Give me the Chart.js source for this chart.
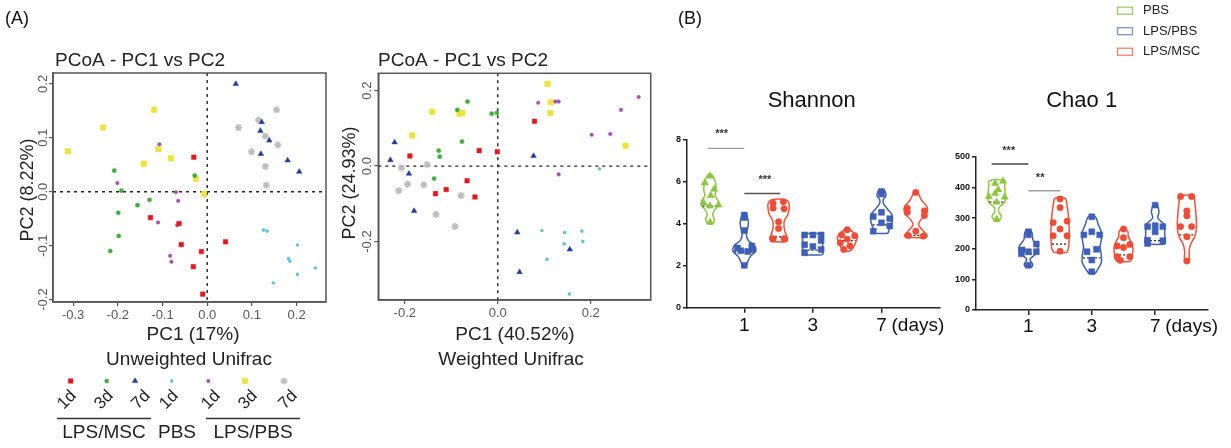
<!DOCTYPE html>
<html>
<head>
<meta charset="utf-8">
<script src="https://cdn.jsdelivr.net/npm/chart.js@4.4.1/dist/chart.umd.min.js"></script>
<style>
  html, body { margin: 0; padding: 0; background: #fff; }
  body { width: 1231px; height: 448px; position: relative; overflow: hidden; }
  canvas { position: absolute; top: 0; }
</style>
</head>
<body>
<canvas id="pcoaU" width="345" height="448" style="left:0px;width:345px;height:448px"></canvas>
<canvas id="pcoaW" width="320" height="448" style="left:340px;width:320px;height:448px"></canvas>
<canvas id="shannon" width="310" height="448" style="left:640px;width:310px;height:448px"></canvas>
<canvas id="chao" width="291" height="448" style="left:940px;width:291px;height:448px"></canvas>
<script>
const FONT = '"Liberation Sans", Arial, Helvetica, sans-serif';
Chart.defaults.font.family = FONT;

// ---- PCoA groups ----
const groupDays = ['1d', '3d', '7d', '1d', '1d', '3d', '7d'];
const groupLabels = ['LPS/MSC', 'PBS', 'LPS/PBS'];

// Unweighted Unifrac (PC1, PC2)
const unwMsc1dX = [-0.030, -0.127, -0.063, -0.058, -0.013, -0.031, -0.010, 0.041];
const unwMsc1dY = [0.064, -0.048, -0.059, -0.098, -0.111, -0.139, -0.190, -0.093];
const unwMsc3dX = [-0.208, -0.192, -0.129, -0.156, -0.199, -0.198, -0.217, -0.028];
const unwMsc3dY = [0.039, 0.002, -0.015, -0.025, -0.039, -0.082, -0.110, 0.030];
const unwMsc7dX = [0.064, 0.122, 0.119, 0.139, 0.120, 0.180, 0.206];
const unwMsc7dY = [0.200, 0.129, 0.113, 0.095, 0.070, 0.058, 0.037];
const unwPbs1dX = [0.126, 0.134, 0.202, 0.182, 0.185, 0.202, 0.242, 0.148];
const unwPbs1dY = [-0.071, -0.073, -0.099, -0.124, -0.129, -0.153, -0.141, -0.169];
const unwLps1dX = [-0.107, -0.201, -0.070, -0.065, -0.110, -0.067, -0.083, -0.080];
const unwLps1dY = [0.088, 0.016, -0.001, -0.017, -0.057, -0.062, -0.119, -0.130];
const unwLps3dX = [-0.312, -0.233, -0.119, -0.109, -0.142, -0.081, -0.025, -0.007];
const unwLps3dY = [0.075, 0.119, 0.152, 0.079, 0.052, 0.062, 0.024, -0.004];
const unwLps7dX = [0.155, 0.115, 0.070, 0.130, 0.158, 0.099, 0.130, 0.132];
const unwLps7dY = [0.152, 0.133, 0.119, 0.103, 0.087, 0.074, 0.047, 0.012];

// Weighted Unifrac (PC1, PC2)
const wMsc1dX = [0.079, -0.040, -0.001, -0.189, -0.066, -0.111, -0.134, -0.049];
const wMsc1dY = [0.119, 0.041, 0.038, 0.027, -0.039, -0.062, -0.073, -0.082];
const wMsc3dX = [-0.065, -0.087, -0.013, -0.002, -0.077, -0.127, -0.125, -0.137];
const wMsc3dY = [0.171, 0.149, 0.139, 0.141, 0.065, 0.041, 0.025, -0.033];
const wMsc7dX = [-0.222, -0.231, -0.191, -0.180, 0.077, 0.042, 0.047, 0.155];
const wMsc7dY = [0.063, 0.016, -0.020, -0.119, 0.027, -0.176, -0.281, -0.221];
const wPbs1dX = [0.219, 0.095, 0.144, 0.181, 0.143, 0.183, 0.106, 0.154];
const wPbs1dY = [-0.007, -0.171, -0.176, -0.172, -0.206, -0.200, -0.247, -0.339];
const wLps1dX = [0.087, 0.124, 0.131, 0.303, 0.265, 0.202, 0.242, 0.131];
const wLps1dY = [0.168, 0.171, 0.171, 0.183, 0.149, 0.083, 0.085, -0.022];
const wLps3dX = [0.107, 0.114, 0.113, 0.275, -0.141, -0.082, -0.076, -0.184];
const wLps3dY = [0.218, 0.169, 0.141, 0.054, 0.144, 0.139, 0.141, 0.081];
const wLps7dX = [-0.207, -0.152, -0.194, -0.159, -0.213, -0.079, -0.133, -0.092];
const wLps7dY = [-0.005, 0.004, -0.048, -0.050, -0.065, -0.078, -0.128, -0.160];

// ---- alpha diversity (violins), slots: PBS, LPS/PBS 1, LPS/MSC 1, LPS/PBS 3, LPS/MSC 3, LPS/PBS 7, LPS/MSC 7 ----
const dayTickSlots = [1, 3, 5];
const dayTickLabels = ['1', '3', '7'];

const shannonVals = [
  [6.28, 5.95, 5.65, 5.35, 5.00, 4.90, 4.85, 4.08],
  [4.42, 4.30, 3.68, 2.95, 2.85, 2.78, 2.72, 2.68, 2.02],
  [5.05, 4.98, 4.75, 4.72, 4.10, 3.78, 3.29, 3.29],
  [3.47, 3.47, 3.47, 3.20, 2.92, 2.78, 2.62, 3.00],
  [3.72, 3.47, 3.43, 3.27, 3.10, 2.95, 2.78],
  [5.55, 5.42, 4.55, 4.35, 4.25, 4.05, 3.90, 3.65],
  [5.50, 4.75, 4.62, 4.55, 4.40, 3.65, 3.45, 3.42]
];
const shannonJitter = [
  [0, -0.15, 0.12, 0.02, -0.18, 0.25, 0, 0],
  [0, 0, 0, 0.22, -0.2, 0.25, -0.1, 0.1, 0],
  [0.14, -0.16, -0.16, 0.16, 0, 0, -0.16, 0.16],
  [-0.24, 0, 0.24, 0.24, 0, 0.24, -0.24, -0.24],
  [0, -0.16, 0.22, 0, -0.2, 0.08, -0.1],
  [0, 0, 0, -0.24, 0.24, 0, 0.24, -0.24],
  [0, -0.25, 0.25, -0.25, 0.25, 0, -0.22, 0.22]
];
const shannonLevels = [
  [4.0, 4.2, 4.45, 4.7, 4.9, 5.1, 5.35, 5.6, 5.9, 6.15, 6.35],
  [1.95, 2.2, 2.45, 2.7, 2.95, 3.2, 3.5, 3.8, 4.1, 4.45],
  [3.15, 3.3, 3.55, 3.85, 4.15, 4.45, 4.75, 5.0, 5.15],
  [2.52, 2.6, 2.8, 3.0, 3.2, 3.4, 3.52],
  [2.7, 2.85, 3.05, 3.25, 3.4, 3.55, 3.7, 3.78],
  [3.55, 3.7, 3.95, 4.2, 4.45, 4.7, 4.95, 5.15, 5.35, 5.6],
  [3.35, 3.45, 3.7, 3.95, 4.2, 4.5, 4.8, 5.1, 5.35, 5.55]
];
const shannonWidths = [
  [0.06, 0.13, 0.08, 0.15, 0.26, 0.24, 0.15, 0.18, 0.17, 0.12, 0.05],
  [0.05, 0.10, 0.18, 0.33, 0.30, 0.12, 0.06, 0.10, 0.12, 0.05],
  [0.22, 0.26, 0.20, 0.16, 0.17, 0.27, 0.31, 0.30, 0.20],
  [0.25, 0.30, 0.30, 0.28, 0.30, 0.30, 0.25],
  [0.06, 0.17, 0.23, 0.28, 0.28, 0.20, 0.10, 0.03],
  [0.18, 0.22, 0.28, 0.32, 0.30, 0.18, 0.06, 0.05, 0.13, 0.08],
  [0.30, 0.33, 0.20, 0.08, 0.15, 0.32, 0.33, 0.18, 0.10, 0.04]
];
const shannonMedians = [4.85, 2.67, 3.38, 2.75, 3.2, 3.95, 3.45];
const shannonSigFrom = [-0.07, 1];
const shannonSigTo = [1, 2.05];
const shannonSigY = [7.6, 5.45];
const shannonSigText = ['***', '***'];
const shannonSigTextX = [0.34, 1.6];
const shannonSigTextY = [8.3, 6.1];

const chaoVals = [
  [420, 413, 392, 380, 370, 368, 352, 296],
  [255, 245, 215, 196, 190, 190, 183, 146],
  [362, 334, 290, 285, 264, 242, 242, 192],
  [304, 255, 245, 245, 198, 190, 163, 125],
  [264, 236, 214, 209, 204, 174, 174, 162],
  [342, 275, 272, 272, 255, 228, 226, 217],
  [370, 370, 323, 307, 272, 272, 239, 160]
];
const chaoJitter = [
  [0.2, -0.05, 0.05, -0.05, -0.25, 0.25, 0, 0],
  [0, 0, 0.25, -0.2, 0, 0.25, -0.22, 0],
  [0, 0, 0.22, -0.22, 0, -0.22, 0.22, 0],
  [0, 0, -0.25, 0.25, 0.15, -0.15, 0, 0],
  [0, 0, 0.2, -0.2, 0, -0.2, 0.2, -0.1],
  [0, 0, -0.24, 0.24, 0, -0.24, 0.24, -0.24],
  [-0.2, 0.15, 0, 0, -0.2, 0.15, 0, 0]
];
const chaoLevels = [
  [290, 305, 320, 335, 350, 365, 385, 405, 420, 425],
  [140, 150, 165, 180, 195, 210, 230, 250, 260],
  [188, 200, 220, 250, 280, 310, 340, 362, 368],
  [120, 135, 155, 180, 205, 230, 255, 280, 300, 308],
  [158, 165, 180, 200, 220, 240, 255, 268],
  [215, 225, 245, 265, 280, 300, 320, 345],
  [158, 170, 190, 215, 240, 265, 290, 320, 350, 372]
];
const chaoWidths = [
  [0.05, 0.15, 0.06, 0.08, 0.25, 0.27, 0.27, 0.25, 0.25, 0.10],
  [0.10, 0.13, 0.05, 0.20, 0.30, 0.28, 0.14, 0.12, 0.06],
  [0.20, 0.26, 0.28, 0.29, 0.28, 0.26, 0.22, 0.18, 0.05],
  [0.10, 0.20, 0.30, 0.30, 0.26, 0.30, 0.30, 0.20, 0.14, 0.05],
  [0.20, 0.25, 0.28, 0.30, 0.25, 0.15, 0.14, 0.04],
  [0.30, 0.32, 0.30, 0.30, 0.28, 0.08, 0.12, 0.05],
  [0.06, 0.08, 0.07, 0.12, 0.25, 0.30, 0.30, 0.28, 0.25, 0.20]
];
const chaoMedians = [352, 183, 215, 170, 180, 226, 245];
const chaoSigFrom = [-0.16, 1];
const chaoSigTo = [1, 2.0];
const chaoSigY = [476, 389];
const chaoSigText = ['***', '**'];
const chaoSigTextX = [0.38, 1.37];
const chaoSigTextY = [520, 429];

// ---- styles ----
const groupStyles = [
  { color: '#e8161b', shape: 'rect', r: 3.2, bw: 0.5 },
  { color: '#3db03a', shape: 'circle', r: 2.1, bw: 0.5 },
  { color: '#1f3f9a', shape: 'triangle', r: 3.2, bw: 0.5 },
  { color: '#5fc6d6', shape: 'star', r: 1.7, bw: 1.5 },
  { color: '#a94fae', shape: 'circle', r: 1.8, bw: 0.5 },
  { color: '#efe23a', shape: 'rect', r: 3.9, bw: 0.5 },
  { color: '#bdbdbd', shape: 'star', r: 3.6, bw: 1.6 }
];
const GREEN = { line: '#8cc63f', color: '#8cc63f', shape: 'triangle', r: 4.2 };
const BLUE = { line: '#3f5db3', color: '#3d5fb8', shape: 'rect', r: 4.2 };
const RED = { line: '#f0503a', color: '#ef4b35', shape: 'circle', r: 3.2 };
const violinStyles = [GREEN, BLUE, RED, BLUE, RED, BLUE, RED];

function fmt1(v) { return Math.abs(v) < 1e-9 ? '0.0' : Number(v).toFixed(1); }

function drawText(ctx, t) {
  ctx.save();
  ctx.font = (t.weight || '') + ' ' + t.size + 'px ' + FONT;
  ctx.fillStyle = t.color || '#222';
  ctx.textAlign = t.align || 'center';
  ctx.textBaseline = 'middle';
  ctx.translate(t.x, t.y);
  if (t.rot) ctx.rotate(t.rot);
  ctx.fillText(t.t, 0, 0);
  ctx.restore();
}

function drawMarker(ctx, st, x, y) {
  ctx.save();
  ctx.fillStyle = st.color;
  ctx.strokeStyle = st.color;
  ctx.lineWidth = st.bw;
  Chart.helpers.drawPoint(ctx, { pointStyle: st.shape, radius: st.r, borderWidth: st.bw, rotation: 0 }, x, y);
  ctx.restore();
}

function pcoaChart(id, cfg) {
  const datasets = cfg.xs.map((xs, g) => ({
    data: xs.map((x, i) => ({ x: x, y: cfg.ys[g][i] })),
    pointStyle: groupStyles[g].shape,
    pointRadius: groupStyles[g].r,
    pointBackgroundColor: groupStyles[g].color,
    pointBorderColor: groupStyles[g].color,
    pointBorderWidth: groupStyles[g].bw,
    showLine: false
  }));
  const decor = {
    id: 'decor',
    beforeDatasetsDraw(chart) {
      const { ctx, chartArea: a, scales: { x, y } } = chart;
      const px = x.getPixelForValue(0), py = y.getPixelForValue(0);
      ctx.save();
      ctx.setLineDash([3, 4]);
      ctx.strokeStyle = '#222';
      ctx.lineWidth = 1.4;
      ctx.beginPath();
      ctx.moveTo(px, a.top); ctx.lineTo(px, a.bottom);
      ctx.moveTo(a.left, py); ctx.lineTo(a.right, py);
      ctx.stroke();
      ctx.restore();
    },
    afterDraw(chart) {
      const { ctx, chartArea: a, scales: { y } } = chart;
      ctx.save();
      ctx.strokeStyle = '#555';
      ctx.lineWidth = 1.5;
      ctx.strokeRect(a.left, a.top, a.right - a.left, a.bottom - a.top);
      ctx.restore();
      y.ticks.forEach(t => {
        drawText(ctx, { t: fmt1(t.value), x: cfg.yLabelX, y: y.getPixelForValue(t.value), size: 13, color: '#555', rot: -Math.PI / 2 });
      });
      cfg.texts.forEach(t => drawText(ctx, t));
      if (cfg.after) cfg.after(ctx);
    }
  };
  return new Chart(document.getElementById(id), {
    type: 'scatter',
    data: { datasets },
    options: {
      responsive: false,
      animation: false,
      events: [],
      layout: { padding: { top: cfg.top, left: 0, right: cfg.right, bottom: 0 } },
      plugins: { legend: { display: false }, tooltip: { enabled: false } },
      scales: {
        x: {
          type: 'linear', min: cfg.xMin, max: cfg.xMax,
          afterFit: s => { s.height = cfg.xh; },
          ticks: { stepSize: cfg.xStep, includeBounds: false, maxRotation: 0, autoSkip: false,
                   font: { size: 13 }, color: '#555', padding: 2, callback: fmt1 },
          grid: { drawOnChartArea: false, tickLength: 4, color: '#555', lineWidth: 1.2 },
          border: { color: '#555', width: 1.5 }
        },
        y: {
          type: 'linear', min: cfg.yMin, max: cfg.yMax,
          afterFit: s => { s.width = cfg.yw; },
          ticks: { stepSize: cfg.yStep, includeBounds: false, display: false },
          grid: { drawOnChartArea: false, tickLength: 4, color: '#555', lineWidth: 1.2 },
          border: { color: '#555', width: 1.5 }
        }
      }
    },
    plugins: [decor]
  });
}

function interp(levels, widths, v) {
  for (let i = 0; i < levels.length - 1; i++) {
    if (v >= levels[i] && v <= levels[i + 1]) {
      const f = (v - levels[i]) / (levels[i + 1] - levels[i]);
      return widths[i] + f * (widths[i + 1] - widths[i]);
    }
  }
  return widths[0];
}

function violinChart(id, cfg) {
  const datasets = [];
  cfg.vals.forEach((vals, k) => {
    const st = violinStyles[k];
    datasets.push({
      data: vals.map((v, i) => ({ x: k + cfg.jitter[k][i], y: v })),
      pointStyle: st.shape, pointRadius: st.r,
      pointBackgroundColor: st.color, pointBorderColor: st.color, pointBorderWidth: 0.5,
      showLine: false, order: 0
    });
    const left = cfg.levels[k].map((lv, i) => ({ x: k - cfg.widths[k][i], y: lv }));
    const right = cfg.levels[k].map((lv, i) => ({ x: k + cfg.widths[k][i], y: lv })).reverse();
    datasets.push({
      data: left.concat(right, [left[0]]),
      showLine: true, pointRadius: 0, borderColor: st.line, borderWidth: 1.5,
      tension: 0.3, fill: false, order: 2
    });
    const w = interp(cfg.levels[k], cfg.widths[k], cfg.medians[k]) * 0.92;
    datasets.push({
      data: [{ x: k - w, y: cfg.medians[k] }, { x: k + w, y: cfg.medians[k] }],
      showLine: true, pointRadius: 0, borderColor: '#222', borderWidth: 1.3,
      borderDash: [2, 2], order: 1
    });
  });
  cfg.sigFrom.forEach((f, i) => {
    datasets.push({
      data: [{ x: f, y: cfg.sigY[i] }, { x: cfg.sigTo[i], y: cfg.sigY[i] }],
      showLine: true, pointRadius: 0, borderColor: cfg.sigColors[i], borderWidth: 1.4, order: 1
    });
  });
  const decor = {
    id: 'decor',
    afterDraw(chart) {
      const { ctx, scales: { x, y } } = chart;
      cfg.sigText.forEach((t, i) => {
        drawText(ctx, { t: t, x: x.getPixelForValue(cfg.sigTextX[i]), y: y.getPixelForValue(cfg.sigTextY[i]), size: 11, weight: 'bold', color: '#333' });
      });
      dayTickSlots.forEach((s, i) => {
        const px = x.getPixelForValue(s);
        drawText(ctx, { t: dayTickLabels[i], x: px, y: cfg.dayLabelY, size: 19, color: '#111' });
        if (i === dayTickSlots.length - 1) {
          drawText(ctx, { t: '(days)', x: px + 10, y: cfg.dayLabelY, size: 19, color: '#111', align: 'left' });
        }
      });
      cfg.texts.forEach(t => drawText(ctx, t));
      if (cfg.after) cfg.after(ctx);
    }
  };
  return new Chart(document.getElementById(id), {
    type: 'scatter',
    data: { datasets },
    options: {
      responsive: false,
      animation: false,
      events: [],
      layout: { padding: { top: cfg.top, left: 0, right: cfg.right, bottom: 0 } },
      plugins: { legend: { display: false }, tooltip: { enabled: false } },
      scales: {
        x: {
          type: 'linear', min: cfg.xMin, max: cfg.xMax,
          afterFit: s => { s.height = cfg.xh; },
          afterBuildTicks: s => { s.ticks = dayTickSlots.map(v => ({ value: v })); },
          ticks: { display: false },
          grid: { drawOnChartArea: false, tickLength: 5, color: '#222', lineWidth: 1.5 },
          border: { color: '#222', width: 1.5 }
        },
        y: {
          type: 'linear', min: 0, max: cfg.yMax,
          afterFit: s => { s.width = cfg.yw; },
          ticks: { stepSize: cfg.yStep, font: { size: 9, weight: 'bold' }, color: '#111', padding: 2 },
          grid: { drawOnChartArea: false, tickLength: 4, color: '#222', lineWidth: 1.5 },
          border: { color: '#222', width: 1.5 }
        }
      }
    },
    plugins: [decor]
  });
}

// ---- chart 1: unweighted ----
const legendMarkerX = [70.7, 106.7, 135, 171.7, 208.3, 245, 284];
const legendDayX = [67, 104, 141, 169, 211, 248, 288];
const groupLabelX = [104, 177, 253];

pcoaChart('pcoaU', {
  xs: [unwMsc1dX, unwMsc3dX, unwMsc7dX, unwPbs1dX, unwLps1dX, unwLps3dX, unwLps7dX],
  ys: [unwMsc1dY, unwMsc3dY, unwMsc7dY, unwPbs1dY, unwLps1dY, unwLps3dY, unwLps7dY],
  xMin: -0.345, xMax: 0.2658, xStep: 0.1,
  yMin: -0.2046, yMax: 0.2202, yStep: 0.1,
  top: 73, right: 19, yw: 53, xh: 146, yLabelX: 43,
  texts: [
    { t: '(A)', x: 5, y: 19, size: 18, align: 'left', color: '#111' },
    { t: 'PCoA - PC1 vs PC2', x: 55, y: 61, size: 19, align: 'left' },
    { t: 'PC2 (8.22%)', x: 28, y: 190, size: 18, rot: -Math.PI / 2 },
    { t: 'PC1 (17%)', x: 193, y: 335, size: 19 },
    { t: 'Unweighted Unifrac', x: 189, y: 360, size: 19 }
  ],
  after(ctx) {
    groupStyles.forEach((st, g) => drawMarker(ctx, st, legendMarkerX[g], 381));
    groupDays.forEach((d, g) => drawText(ctx, { t: d, x: legendDayX[g], y: 400, size: 17, rot: -Math.PI / 4 }));
    ctx.save();
    ctx.strokeStyle = '#333';
    ctx.lineWidth = 1.3;
    ctx.beginPath();
    ctx.moveTo(57, 418.5); ctx.lineTo(151, 418.5);
    ctx.moveTo(206, 418.5); ctx.lineTo(300, 418.5);
    ctx.stroke();
    ctx.restore();
    groupLabels.forEach((l, i) => drawText(ctx, { t: l, x: groupLabelX[i], y: 433, size: 19 }));
  }
});

// ---- chart 2: weighted ----
pcoaChart('pcoaW', {
  xs: [wMsc1dX, wMsc3dX, wMsc7dX, wPbs1dX, wLps1dX, wLps3dX, wLps7dX],
  ys: [wMsc1dY, wMsc3dY, wMsc7dY, wPbs1dY, wLps1dY, wLps3dY, wLps7dY],
  xMin: -0.257, xMax: 0.329, xStep: 0.2,
  yMin: -0.355, yMax: 0.246, yStep: 0.2,
  top: 73.3, right: 9.3, yw: 38.3, xh: 148, yLabelX: 27,
  texts: [
    { t: 'PCoA - PC1 vs PC2', x: 38, y: 61, size: 19, align: 'left' },
    { t: 'PC2 (24.93%)', x: 10, y: 183, size: 18, rot: -Math.PI / 2 },
    { t: 'PC1 (40.52%)', x: 175, y: 335, size: 19 },
    { t: 'Weighted Unifrac', x: 171, y: 360, size: 19 }
  ]
});

// ---- chart 3: Shannon ----
violinChart('shannon', {
  vals: shannonVals, jitter: shannonJitter, levels: shannonLevels, widths: shannonWidths, medians: shannonMedians,
  sigFrom: shannonSigFrom, sigTo: shannonSigTo, sigY: shannonSigY, sigColors: ['#9a9a9a', '#555'],
  sigText: shannonSigText, sigTextX: shannonSigTextX, sigTextY: shannonSigTextY,
  xMin: -0.67, xMax: 6.706, yMax: 8, yStep: 2,
  top: 140, right: 10, yw: 47, xh: 140.3, dayLabelY: 326,
  texts: [
    { t: '(B)', x: 38, y: 19, size: 18, align: 'left', color: '#111' },
    { t: 'Shannon', x: 171.7, y: 101, size: 22, color: '#111' }
  ]
});

// ---- chart 4: Chao 1 ----
const legendNames = ['PBS', 'LPS/PBS', 'LPS/MSC'];
const legendColors = ['#9ccc65', '#8090cc', '#f08070'];
violinChart('chao', {
  vals: chaoVals, jitter: chaoJitter, levels: chaoLevels, widths: chaoWidths, medians: chaoMedians,
  sigFrom: chaoSigFrom, sigTo: chaoSigTo, sigY: chaoSigY, sigColors: ['#444', '#9a9a9a'],
  sigText: chaoSigText, sigTextX: chaoSigTextX, sigTextY: chaoSigTextY,
  xMin: -0.653, xMax: 6.666, yMax: 500, yStep: 100,
  top: 156.7, right: 23, yw: 36, xh: 138, dayLabelY: 327,
  texts: [
    { t: 'Chao 1', x: 141.7, y: 101, size: 22, color: '#111' }
  ],
  after(ctx) {
    legendNames.forEach((n, i) => {
      const cy = 10.7 + i * 20.5;
      ctx.save();
      ctx.strokeStyle = legendColors[i];
      ctx.lineWidth = 1.3;
      ctx.strokeRect(177.5, cy - 3.5, 15, 7);
      ctx.restore();
      drawText(ctx, { t: n, x: 203, y: cy, size: 13, align: 'left', color: '#222' });
    });
  }
});
</script>
</body>
</html>
